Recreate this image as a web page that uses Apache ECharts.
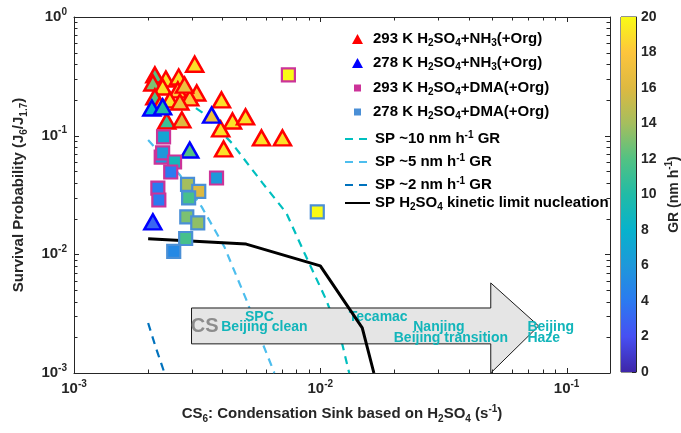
<!DOCTYPE html>
<html><head><meta charset="utf-8">
<script src="https://cdn.jsdelivr.net/npm/echarts@6/dist/echarts.min.js"></script>
<style>html,body{margin:0;padding:0;background:#fff}#c{width:681px;height:433px}</style>
</head><body><div id="c"></div>
<script>
// ---------------- data ----------------
// [CS6 (s^-1), survival probability, GR (nm h^-1)]
const nh3_293K = [
 [0.00309,0.40,19],[0.00213,0.325,12],[0.00236,0.30,19],[0.00266,0.312,19],[0.00209,0.278,13],
 [0.00229,0.257,19],[0.00264,0.243,18],[0.00315,0.229,18],[0.00213,0.212,12],[0.00245,0.200,19],
 [0.00295,0.208,18],[0.00269,0.192,17],[0.00223,0.181,17],[0.00281,0.267,17],[0.00397,0.200,19],
 [0.00238,0.133,11],[0.00274,0.136,16],[0.00440,0.133,19],[0.00497,0.144,19],[0.00394,0.114,19],
 [0.00577,0.0957,19],[0.00702,0.0957,19],[0.00405,0.0773,19]
];
const nh3_278K = [[0.00362,0.149,17],[0.00207,0.171,8],[0.00229,0.175,10],[0.00295,0.0757,12],[0.00209,0.0188,3]];
const dma_293K = [[0.00231,0.0975,7],[0.00226,0.066,6],[0.00229,0.0715,6],[0.00256,0.060,9],[0.00247,0.0494,4],
 [0.00219,0.0362,4],[0.00221,0.0287,4],[0.00379,0.044,6],[0.00742,0.325,20]];
const dma_278K = [[0.00289,0.0388,14],[0.00321,0.0339,16],[0.00292,0.0299,11.5],[0.00287,0.0207,13],
 [0.00318,0.0184,13.5],[0.00284,0.0136,11.5],[0.00254,0.0106,5],[0.00972,0.0228,20]];
const sp10Line = [[0.002,0.30],[0.0025,0.235],[0.0033,0.158],[0.00437,0.0868],[0.00582,0.040],[0.00728,0.0223],
 [0.00861,0.0103],[0.01057,0.00413],[0.01216,0.0019],[0.0131,0.001]];
const sp5Line = [[0.002,0.092],[0.00269,0.0467],[0.0033,0.0251],[0.00408,0.01154],[0.00501,0.00413],[0.00582,0.00179],[0.00651,0.001]];
const sp2Line = [[0.002,0.00264],[0.00215,0.00163],[0.00233,0.001]];
const kineticLine = [[0.002,0.0135],[0.005,0.0122],[0.01,0.008],[0.0148,0.0024],[0.0165,0.001]];
// CS arrow outline (data units)
const arrowShape = [[0.003,0.00353],[0.0492,0.00353],[0.0492,0.00574],[0.077,0.00249],[0.0492,0.001],[0.0492,0.00176],[0.003,0.00176]];
const siteLabels = ['CS','SPC','Beijing clean','Tecamac','Nanjing','Beijing transition','Beijing','Haze'];
const siteX = [0.00339,0.00566,0.00593,0.01718,0.0303,0.0339,0.0693,0.0693];
const siteY = [0.00245,0.00297,0.00245,0.00297,0.00245,0.00198,0.00245,0.00198];
// axis tick positions (log axes, decades + minor)
const xTickValues = [0.001,0.002,0.003,0.004,0.005,0.006,0.007,0.008,0.009,0.01,0.02,0.03,0.04,0.05,0.06,0.07,0.08,0.09,0.1];
const xLabelValues = [0.001,0.01,0.1];
const yTickValues = [0.001,0.002,0.003,0.004,0.005,0.006,0.007,0.008,0.009,0.01,0.02,0.03,0.04,0.05,0.06,0.07,0.08,0.09,0.1,0.2,0.3,0.4,0.5,0.6,0.7,0.8,0.9,1];
const yLabelValues = [0.001,0.01,0.1,1];

// ---------------- styling ----------------
const FONT = "'Liberation Sans', Arial, sans-serif";
const INK = '#262626';
const parula = ['#3E26A8','#4750F3','#2B7AF0','#1E98DA','#07B2CC','#21BBA6','#52C283','#A5BE5E','#DDB941','#FDC53D','#F9FB15'];
function hex2rgb(h){return [parseInt(h.slice(1,3),16),parseInt(h.slice(3,5),16),parseInt(h.slice(5,7),16)];}
function grColor(v){
  let t = Math.max(0, Math.min(1, v/20)) * (parula.length-1);
  let i = Math.min(parula.length-2, Math.floor(t)), f = t - i;
  const a = hex2rgb(parula[i]), b = hex2rgb(parula[i+1]);
  const c = a.map((x,k)=>Math.round(x+(b[k]-x)*f));
  return 'rgb('+c.join(',')+')';
}
const richSS = {
  sub:{fontSize:10,fontWeight:'bold',fontFamily:FONT,verticalAlign:'bottom',lineHeight:10,color:'#000'},
  sup:{fontSize:10,fontWeight:'bold',fontFamily:FONT,verticalAlign:'top',lineHeight:10,color:'#000'}
};
const richInk = {
  sub:{fontSize:10,fontWeight:'bold',fontFamily:FONT,verticalAlign:'bottom',lineHeight:10,color:INK},
  sup:{fontSize:10,fontWeight:'bold',fontFamily:FONT,verticalAlign:'top',lineHeight:10,color:INK}
};
const legendNames = {
  'nh3_293':'293 K H{sub|2}SO{sub|4}+NH{sub|3}(+Org)',
  'nh3_278':'278 K H{sub|2}SO{sub|4}+NH{sub|3}(+Org)',
  'dma_293':'293 K H{sub|2}SO{sub|4}+DMA(+Org)',
  'dma_278':'278 K H{sub|2}SO{sub|4}+DMA(+Org)',
  'sp10':'SP ~10 nm h{sup|-1} GR',
  'sp5':'SP ~5 nm h{sup|-1} GR',
  'sp2':'SP ~2 nm h{sup|-1} GR',
  'kin':'SP H{sub|2}SO{sub|4} kinetic limit nucleation'
};
function mkLegend(names, left, top, w, h, gap, padLeft){
  return {
    orient:'vertical', left:left, top:top, itemWidth:w, itemHeight:h, itemGap:gap,
    data:names, formatter:n=>legendNames[n], selectedMode:false, padding:0,
    textStyle:{fontFamily:FONT,fontSize:15,fontWeight:'bold',color:'#000',lineHeight:18,rich:richSS,padding:[0,0,0,padLeft]}
  };
}
const isDecade = v => Math.abs(Math.log10(v) - Math.round(Math.log10(v))) < 1e-9;
const powLabel = v => isDecade(v) ? '10{sup|' + Math.round(Math.log10(v)) + '}' : '';

function scatterSeries(name, data, symbol, size, edge, bw){
  return {
    name:name, type:'scatter', data:data, symbol:symbol, symbolSize:size,
    xAxisIndex:0, yAxisIndex:0, z:5,
    itemStyle:{color:p=>grColor(p.value[2]), borderColor:edge, borderWidth:bw, opacity:1},
    emphasis:{disabled:true}
  };
}
function lineSeries(name, data, color, type, width, z){
  return {
    name:name, type:'line', data:data, showSymbol:false, symbol:'none', z:z,
    xAxisIndex:0, yAxisIndex:0,
    lineStyle:{color:color, width:width, type:type}, itemStyle:{color:color},
    emphasis:{disabled:true}
  };
}
const lineLegendItem = n => ({name:n, itemStyle:{opacity:0}});
// tick items: [x, y, kind] kind 0 = x-axis tick, 1 = y-axis tick
const tickItems = xTickValues.map(v=>[v, 0.001, 0]).concat(yTickValues.map(v=>[0.001, v, 1]));

const chart = echarts.init(document.getElementById('c'), null, {renderer:'canvas'});
const axisLineStyle = {show:true, lineStyle:{color:INK, width:1}};
const option = {
  animation:false,
  backgroundColor:'#fff',
  grid:[
    {left:74, right:71, top:17, bottom:60, outerBoundsMode:'none', containLabel:false},
    {left:621, width:15, top:17, bottom:61, show:true, borderColor:INK, borderWidth:1, outerBoundsMode:'none', containLabel:false}
  ],
  xAxis:[
    {type:'log', logBase:10, min:0.001, max:0.15, position:'bottom', gridIndex:0,
     axisLine:axisLineStyle, splitLine:{show:false}, axisTick:{show:false},
     axisLabel:{show:true, customValues:xLabelValues, formatter:powLabel, fontFamily:FONT, fontSize:15, fontWeight:'bold', color:INK, lineHeight:20, margin:6, rich:richInk},
     name:'CS{sub|6}: Condensation Sink based on H{sub|2}SO{sub|4} (s{sup|-1})',
     nameLocation:'middle', nameGap:28,
     nameTextStyle:{fontFamily:FONT, fontSize:15, fontWeight:'bold', color:INK, lineHeight:20, rich:richInk}},
    {type:'log', logBase:10, min:0.001, max:0.15, position:'top', gridIndex:0,
     axisLine:axisLineStyle, splitLine:{show:false}, axisTick:{show:false}, axisLabel:{show:false}},
    {type:'category', gridIndex:1, data:['c'], show:false}
  ],
  yAxis:[
    {type:'log', logBase:10, min:0.001, max:1, position:'left', gridIndex:0,
     axisLine:axisLineStyle, splitLine:{show:false}, axisTick:{show:false},
     axisLabel:{show:true, customValues:yLabelValues, formatter:powLabel, fontFamily:FONT, fontSize:15, fontWeight:'bold', color:INK, lineHeight:20, margin:7, rich:richInk},
     name:'Survival Probability (J{sub|6}/J{sub|1.7})', nameLocation:'middle', nameRotate:90, nameGap:45,
     nameTextStyle:{fontFamily:FONT, fontSize:15, fontWeight:'bold', color:INK, lineHeight:20, rich:richInk}},
    {type:'log', logBase:10, min:0.001, max:1, position:'right', gridIndex:0,
     axisLine:axisLineStyle, splitLine:{show:false}, axisTick:{show:false}, axisLabel:{show:false}},
    {type:'value', gridIndex:1, min:0, max:20, interval:2, position:'right',
     axisLine:axisLineStyle, splitLine:{show:false},
     axisTick:{show:true, inside:true, length:4, lineStyle:{color:INK, width:1}},
     axisLabel:{fontFamily:FONT, fontSize:14, fontWeight:'bold', color:INK, margin:5},
     name:'GR (nm h{sup|-1})', nameLocation:'middle', nameRotate:90, nameGap:28,
     nameTextStyle:{fontFamily:FONT, fontSize:14, fontWeight:'bold', color:INK, lineHeight:20, rich:richInk}}
  ],
  legend:[
    mkLegend([{name:'nh3_293',icon:'triangle',itemStyle:{color:'#FF0000',borderWidth:0}},
              {name:'nh3_278',icon:'triangle',itemStyle:{color:'#0000FF',borderWidth:0}}], 352, 30, 11, 10, 6, 5),
    mkLegend([{name:'dma_293',icon:'rect',itemStyle:{color:'#CC3399',borderWidth:0}},
              {name:'dma_278',icon:'rect',itemStyle:{color:'#4A8FD6',borderWidth:0}}], 354, 79, 7, 7, 6, 7),
    mkLegend([lineLegendItem('sp10'),lineLegendItem('sp5'),lineLegendItem('sp2')], 344, 130, 25, 14, 5, 0),
    mkLegend([lineLegendItem('kin')], 344, 194, 25, 14, 5, 0)
  ],
  series:[
    lineSeries('sp10', sp10Line, '#00BFBF', [8,6], 2.2, 2),
    lineSeries('sp5', sp5Line, '#4DBEEE', [8,6], 2.2, 2),
    lineSeries('sp2', sp2Line, '#0072BD', [8,6], 2.2, 2),
    {
      type:'custom', name:'arrow', xAxisIndex:0, yAxisIndex:0, z:3, silent:true,
      data:[[arrowShape[0][0], arrowShape[0][1]]],
      renderItem:(params, api)=>({
        type:'polygon',
        shape:{points:arrowShape.map(p=>api.coord(p))},
        style:{fill:'#E5E5E5', stroke:'#1a1a1a', lineWidth:1}
      })
    },
    lineSeries('kin', kineticLine, '#000000', 'solid', 3, 4),
    {
      type:'custom', name:'sites', xAxisIndex:0, yAxisIndex:0, z:4, silent:true,
      data:siteLabels.map((t,i)=>[siteX[i], siteY[i], i]),
      renderItem:(params, api)=>{
        const i = api.value(2);
        const p = api.coord([api.value(0), api.value(1)]);
        const isCS = i === 0, left = i >= 6;
        return {type:'text', x:p[0], y:p[1], style:{
          text:siteLabels[i], fill:isCS ? '#8C8C8C' : '#12B5BA',
          font:'bold ' + (isCS ? 20 : 14) + 'px ' + FONT,
          align:left ? 'left' : 'center', verticalAlign:'middle'}};
      }
    },
    {
      type:'custom', name:'ticks', xAxisIndex:0, yAxisIndex:0, z:6, silent:true, clip:false,
      data:tickItems,
      renderItem:(params, api)=>{
        const cs = params.coordSys;
        const kind = api.value(2);
        const v = kind === 0 ? api.value(0) : api.value(1);
        const len = isDecade(v) ? 5 : 3.5;
        const p = api.coord([api.value(0), api.value(1)]);
        const st = {stroke:INK, lineWidth:1};
        if (kind === 0) {
          const x = Math.round(p[0]) + 0.5;
          return {type:'group', children:[
            {type:'line', shape:{x1:x, y1:cs.y+cs.height, x2:x, y2:cs.y+cs.height-len}, style:st},
            {type:'line', shape:{x1:x, y1:cs.y, x2:x, y2:cs.y+len}, style:st}
          ]};
        }
        const y = Math.round(p[1]) + 0.5;
        return {type:'group', children:[
          {type:'line', shape:{x1:cs.x, y1:y, x2:cs.x+len, y2:y}, style:st},
          {type:'line', shape:{x1:cs.x+cs.width, y1:y, x2:cs.x+cs.width-len, y2:y}, style:st}
        ]};
      }
    },
    scatterSeries('nh3_293', nh3_293K, 'triangle', [17,15], '#FF0000', 2.5),
    scatterSeries('nh3_278', nh3_278K, 'triangle', [17,15], '#0000FF', 2.5),
    scatterSeries('dma_293', dma_293K, 'rect', 13, '#CC3399', 2.2),
    scatterSeries('dma_278', dma_278K, 'rect', 13, '#4A8FD6', 2.2),
    {
      type:'bar', xAxisIndex:2, yAxisIndex:2, data:[20], barWidth:'100%', silent:true,
      itemStyle:{color:{type:'linear', x:0, y:1, x2:0, y2:0,
        colorStops:parula.map((c,i)=>({offset:i/(parula.length-1), color:c}))}}
    }
  ]
};
chart.setOption(option);
</script>
</body></html>
